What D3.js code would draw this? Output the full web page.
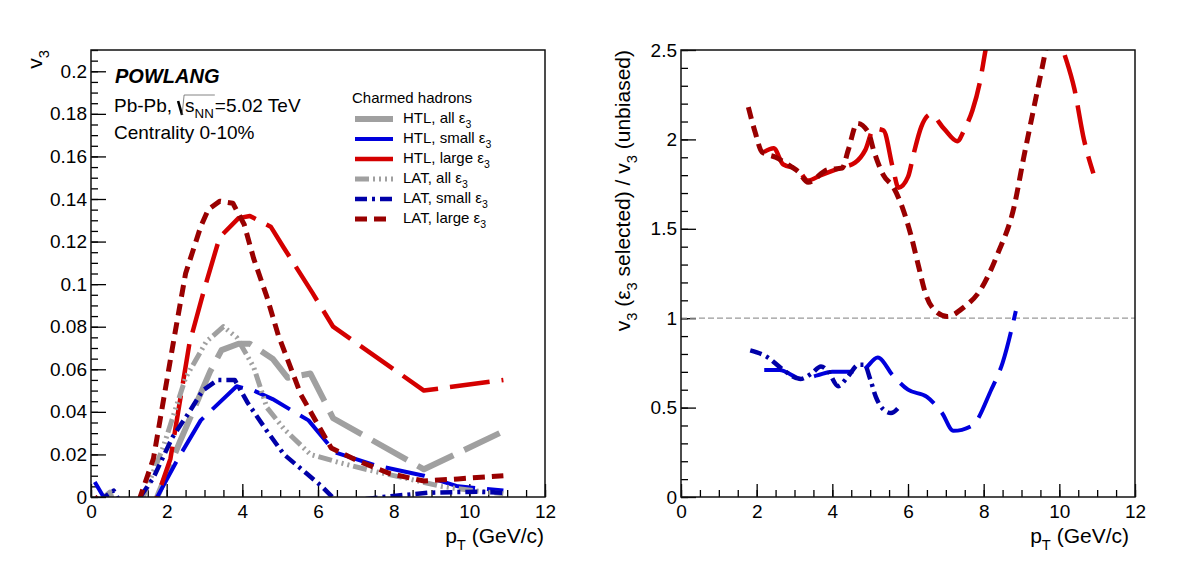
<!DOCTYPE html>
<html>
<head>
<meta charset="utf-8">
<script src="https://cdn.jsdelivr.net/npm/d3@7"></script>
<style>
body { margin: 0; background: #fff; }
svg { display: block; }
text { font-family: "Liberation Sans", Arial, Helvetica, sans-serif; fill: #000; }
</style>
</head>
<body>
<svg id="chart" width="1182" height="571"></svg>
<script>
// ---- left panel: v3 vs pT, [pT, v3]
const htlAll   = [[0.1,-0.004],[0.5,0.002],[1.0,-0.03],[1.75,0.0],[2.35,0.026],[3.15,0.059],[3.45,0.069],[3.9,0.072],[4.2,0.072],[4.8,0.065],[5.2,0.056],[5.8,0.058],[6.4,0.037],[8.8,0.013],[10.8,0.030]];
const htlSmall = [[0.1,0.007],[0.4,-0.002],[1.0,-0.03],[1.75,0.0],[2.3,0.018],[2.9,0.036],[3.85,0.052],[4.3,0.05],[4.8,0.046],[5.75,0.036],[6.45,0.021],[7.5,0.015],[8.8,0.010],[9.7,0.005],[10.9,0.003]];
const htlLarge = [[0.1,0.0],[0.4,-0.005],[1.0,-0.03],[1.75,0.0],[2.1,0.018],[2.6,0.072],[3.0,0.098],[3.4,0.122],[3.9,0.131],[4.2,0.132],[4.75,0.127],[5.1,0.117],[5.85,0.096],[6.4,0.080],[8.8,0.050],[10.9,0.055]];
const latAll   = [[0.1,-0.003],[0.5,0.001],[1.0,-0.02],[1.38,0.0],[1.9,0.023],[2.5,0.056],[3.05,0.073],[3.5,0.080],[3.85,0.075],[4.3,0.061],[4.65,0.042],[5.1,0.032],[5.8,0.020],[6.6,0.016],[7.5,0.012],[8.4,0.0085],[9.25,0.005],[10.1,0.003],[10.9,0.0015]];
const latSmall = [[0.2,-0.002],[0.6,0.003],[1.0,-0.01],[1.3,0.0],[1.65,0.009],[2.15,0.028],[2.6,0.040],[2.95,0.050],[3.35,0.055],[3.8,0.055],[4.15,0.044],[4.65,0.031],[5.1,0.020],[5.7,0.011],[6.1,0.005],[6.6,-0.004],[7.2,-0.001],[8.0,0.0005],[8.9,0.002],[10.2,0.0025],[10.9,0.002]];
const latLarge = [[0.1,0.0],[0.4,-0.004],[1.0,-0.02],[1.3,0.0],[1.65,0.018],[2.2,0.075],[2.5,0.105],[2.9,0.127],[3.1,0.135],[3.4,0.139],[3.75,0.138],[4.05,0.128],[4.3,0.112],[4.65,0.094],[4.95,0.076],[5.55,0.048],[6.35,0.023],[7.05,0.017],[7.9,0.011],[8.8,0.0075],[9.7,0.0085],[10.9,0.010]];

// ---- right panel: ratio selected / unbiased, [pT, ratio]
const htlSmallR = [[2.2,0.71],[2.6,0.71],[3.2,0.66],[3.6,0.68],[4.0,0.70],[4.4,0.70],[4.8,0.71],[5.2,0.78],[5.6,0.68],[6.0,0.60],[6.5,0.56],[6.9,0.47],[7.2,0.37],[7.7,0.40],[8.2,0.60],[8.5,0.75],[8.85,1.04]];
const htlLargeR = [[2.2,1.93],[2.45,1.95],[2.7,1.86],[3.1,1.83],[3.35,1.77],[3.7,1.80],[4.2,1.84],[4.6,1.87],[4.87,1.94],[5.1,2.06],[5.35,2.05],[5.6,1.84],[5.75,1.73],[6.0,1.79],[6.15,1.92],[6.35,2.07],[6.6,2.14],[6.95,2.06],[7.3,1.99],[7.5,2.06],[7.7,2.16],[7.9,2.32],[8.05,2.5],[9.0,3.1],[10.1,2.5],[10.4,2.28],[10.65,2.0],[10.9,1.81]];
const latSmallR = [[1.83,0.82],[2.3,0.78],[2.65,0.72],[3.15,0.66],[3.45,0.69],[3.7,0.73],[3.9,0.70],[4.15,0.62],[4.4,0.67],[4.7,0.74],[4.85,0.74],[5.0,0.66],[5.15,0.56],[5.35,0.49],[5.55,0.47],[5.75,0.50]];
const latLargeR = [[1.78,2.18],[1.96,2.04],[2.14,1.93],[2.5,1.90],[2.9,1.85],[3.1,1.82],[3.36,1.76],[3.87,1.83],[4.26,1.84],[4.42,1.94],[4.66,2.09],[4.95,2.04],[5.09,1.94],[5.35,1.80],[5.62,1.73],[5.85,1.62],[6.07,1.47],[6.28,1.29],[6.46,1.14],[6.68,1.05],[7.04,1.01],[7.47,1.06],[7.92,1.16],[8.37,1.36],[8.8,1.62],[9.06,1.90],[9.33,2.18],[9.64,2.5],[10.0,2.9]];

const legendNames = ["HTL, all", "HTL, small", "HTL, large", "LAT, all", "LAT, small", "LAT, large"];
const xTicks = [0, 2, 4, 6, 8, 10, 12];
const yTicksL = [0, 0.02, 0.04, 0.06, 0.08, 0.1, 0.12, 0.14, 0.16, 0.18, 0.2];
const yTicksR = [0, 0.5, 1, 1.5, 2, 2.5];

const styles = [
    {color: "#a0a0a0", w: 6,   dash: "40,12"},
    {color: "#0000dd", w: 4,   dash: "40,12"},
    {color: "#d40000", w: 4.5, dash: "40,12"},
    {color: "#a0a0a0", w: 5,   dash: "14,4,2,4,2,4,2,4"},
    {color: "#0000a8", w: 4.5, dash: "12,5,3,5"},
    {color: "#990000", w: 5,   dash: "12,7"}
];
const legendDash = [null, null, null, "14,4,2,4,2,4,2,4", "12,5,3,5", "12,7"];

let svg = d3.select("#chart");
const FS = 19, TS = 21;

let xL = d3.scaleLinear().domain([0, 12]).range([91, 545]);
let yL = d3.scaleLinear().domain([0, 0.21]).range([497, 50]);
let xR = d3.scaleLinear().domain([0, 12]).range([681, 1135]);
let yR = d3.scaleLinear().domain([0, 2.5]).range([497, 50]);

function rich(g, x, y, parts, size) {
    let t = g.append("text").attr("x", x).attr("y", y).style("font-size", size + "px");
    let low = false;
    parts.forEach(p => {
        let sp = t.append("tspan").text(p[0]);
        if (p[1] == "sub") {
            sp.style("font-size", (size * 0.7) + "px");
            if (!low) { sp.attr("dy", size * 0.32); low = true; }
        } else if (low) {
            sp.attr("dy", -size * 0.32); low = false;
        }
    });
    return t;
}

function fmt(d) { return String(+d.toFixed(3)); }

function panel(x, y, yticks, yminor, id, series, curve) {
    let g = svg.append("g");
    g.append("clipPath").attr("id", id).append("rect")
        .attr("x", x.range()[0]).attr("y", y.range()[1])
        .attr("width", x.range()[1] - x.range()[0]).attr("height", y.range()[0] - y.range()[1]);

    // minor ticks
    let xminor = d3.range(0, 12.01, 0.5);
    g.append("g").attr("transform", "translate(0," + y.range()[0] + ")")
        .call(d3.axisBottom(x).tickValues(xminor).tickSize(-7).tickFormat(""))
        .call(a => a.select(".domain").remove());
    g.append("g").attr("transform", "translate(" + x.range()[0] + ",0)")
        .call(d3.axisLeft(y).tickValues(yminor).tickSize(-7).tickFormat(""))
        .call(a => a.select(".domain").remove());
    // major ticks + labels
    g.append("g").attr("transform", "translate(0," + y.range()[0] + ")")
        .call(d3.axisBottom(x).tickValues(xTicks).tickSize(-13).tickPadding(8).tickFormat(fmt))
        .call(a => a.select(".domain").remove())
        .call(a => a.selectAll("text").style("font-size", FS + "px").style("font-family", null));
    g.append("g").attr("transform", "translate(" + x.range()[0] + ",0)")
        .call(d3.axisLeft(y).tickValues(yticks).tickSize(-15).tickPadding(4).tickFormat(fmt))
        .call(a => a.select(".domain").remove())
        .call(a => a.selectAll("text").style("font-size", FS + "px").style("font-family", null));
    g.selectAll(".tick line").attr("stroke", "#000").attr("stroke-width", 1.3);

    let lines = g.append("g").attr("clip-path", "url(#" + id + ")");
    if (id == "clipR") {
        lines.append("line")
            .attr("x1", x(0)).attr("x2", x(12)).attr("y1", y(1)).attr("y2", y(1))
            .attr("stroke", "#999").attr("stroke-width", 1.2).attr("stroke-dasharray", "6,3");
    }
    let line = d3.line().x(d => x(d[0])).y(d => y(d[1])).curve(curve);
    series.forEach(s => {
        if (!s.data) return;
        lines.append("path").attr("d", line(s.data))
            .attr("fill", "none").attr("stroke", s.st.color).attr("stroke-width", s.st.w)
            .attr("stroke-dasharray", s.st.dash).attr("stroke-linejoin", "round");
    });

    g.append("rect")
        .attr("x", x.range()[0]).attr("y", y.range()[1])
        .attr("width", x.range()[1] - x.range()[0]).attr("height", y.range()[0] - y.range()[1])
        .attr("fill", "none").attr("stroke", "#111").attr("stroke-width", 1.5);
    return g;
}

let gL = panel(xL, yL, yTicksL, d3.range(0, 0.2101, 0.005), "clipL",
    [htlAll, htlSmall, htlLarge, latAll, latSmall, latLarge].map((d, i) => ({data: d, st: styles[i]})),
    d3.curveLinear);
let gR = panel(xR, yR, yTicksR, d3.range(0, 2.501, 0.1), "clipR",
    [null, htlSmallR, htlLargeR, null, latSmallR, latLargeR].map((d, i) => ({data: d, st: styles[i]})),
    d3.curveMonotoneX);

// axis titles
rich(gL, 544, 543, [["p"], ["T", "sub"], [" (GeV/c)"]], TS).attr("text-anchor", "end");
rich(gR, 1129, 543, [["p"], ["T", "sub"], [" (GeV/c)"]], TS).attr("text-anchor", "end");
rich(gL, 0, 0, [["v"], ["3", "sub"]], TS).attr("text-anchor", "end")
    .attr("transform", "translate(42,50) rotate(-90)");
rich(gR, 0, 0, [["v"], ["3", "sub"], [" ("], ["ε"], ["3", "sub"], [" selected) / v"], ["3", "sub"], [" (unbiased)"]], TS)
    .attr("text-anchor", "end").attr("transform", "translate(630,50) rotate(-90)");

// labels in left panel
gL.append("text").attr("x", 115).attr("y", 83).text("POWLANG")
    .style("font-size", "20px").style("font-weight", "bold").style("font-style", "italic");
let pre = gL.append("text").attr("x", 114).attr("y", 112).style("font-size", "19px").text("Pb-Pb,");
let rx = 114 + pre.node().getComputedTextLength() + 6;
let sq = rich(gL, rx + 7, 112, [["s"], ["NN", "sub"]], 19);
let sw = sq.node().getComputedTextLength();
gL.append("path").attr("d", "M" + rx + "," + 101 + "L" + (rx + 4) + "," + 115)
    .attr("stroke", "#000").attr("stroke-width", 2.6).attr("fill", "none");
gL.append("path").attr("d", "M" + (rx + 4) + "," + 115 + "L" + (rx + 6) + "," + 95 + "L" + (rx + 8 + sw) + "," + 95)
    .attr("stroke", "#666").attr("stroke-width", 0.8).attr("fill", "none");
gL.append("text").attr("x", rx + 8 + sw).attr("y", 112).style("font-size", "19px").text("=5.02 TeV");
gL.append("text").attr("x", 114).attr("y", 139).style("font-size", "19px").text("Centrality 0-10%");

// legend
gL.append("text").attr("x", 352).attr("y", 103).style("font-size", "15px").text("Charmed hadrons");
legendNames.forEach((n, i) => {
    let yy = 123 + i * 20;
    gL.append("line").attr("x1", 355).attr("x2", 393).attr("y1", yy - 4).attr("y2", yy - 4)
        .attr("stroke", styles[i].color).attr("stroke-width", styles[i].w)
        .attr("stroke-dasharray", legendDash[i]);
    rich(gL, 403, yy, [[n + " ε"], ["3", "sub"]], 15);
});
</script>
</body>
</html>
